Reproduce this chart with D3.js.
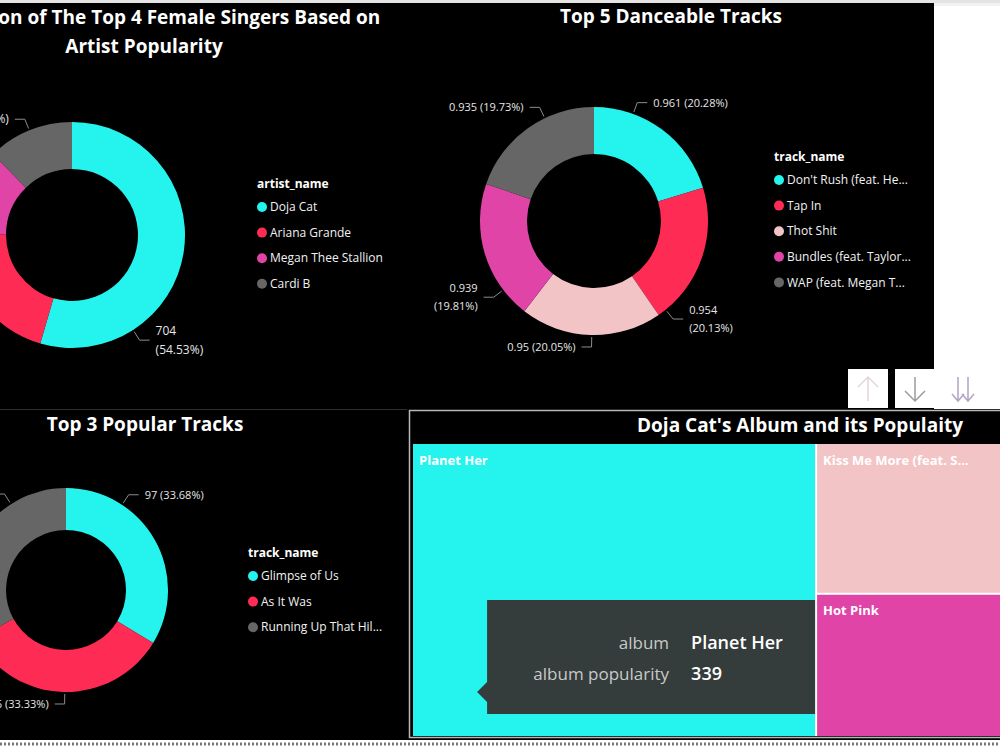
<!DOCTYPE html>
<html>
<head>
<meta charset="utf-8">
<script src="https://cdn.jsdelivr.net/npm/d3@7"></script>
<style>
    body { margin: 0; background: #fff; }
    svg { display: block; font-family: "Open Sans", "Noto Sans", sans-serif; }
</style>
</head>
<body>
<svg id="board" width="1000" height="750"></svg>
<script>
const artistNames = ["Doja Cat", "Ariana Grande", "Megan Thee Stallion", "Cardi B"];
const artistPopularity = [704, 266, 162, 159];

const danceTracks = ["Don't Rush (feat. He...", "Tap In", "Thot Shit", "Bundles (feat. Taylor...", "WAP (feat. Megan T..."];
const danceability = [0.961, 0.954, 0.95, 0.939, 0.935];

const popularTracks = ["Glimpse of Us", "As It Was", "Running Up That Hil..."];
const trackPopularity = [97, 96, 95];

const dojaAlbums = ["Planet Her", "Kiss Me More (feat. S...", "Hot Pink"];
const albumPopularity = [339, 160, 152];

const cyan = "#25F4EE", red = "#FE2C55", magenta = "#E044A7", grey = "#666666", blush = "#F2C4C6";

const svg = d3.select("#board");

// page background and panels
svg.append("rect").attr("width", 1000).attr("height", 750).attr("fill", "#fff");
svg.append("rect").attr("width", 1000).attr("height", 3).attr("fill", "#e4e4e4");
svg.append("rect").attr("x", 934).attr("y", 3).attr("width", 66).attr("height", 3).attr("fill", "#f1f1f1");
svg.append("rect").attr("x", 0).attr("y", 3).attr("width", 934).attr("height", 406).attr("fill", "#000");
svg.append("rect").attr("x", 0).attr("y", 409).attr("width", 1000).attr("height", 331).attr("fill", "#000");
svg.append("line").attr("x1", 0).attr("x2", 407).attr("y1", 409.5).attr("y2", 409.5).attr("stroke", "#2e2e2e");
svg.append("line").attr("x1", 0).attr("x2", 1000).attr("y1", 744).attr("y2", 744)
    .attr("stroke", "#777").attr("stroke-width", 3).attr("stroke-dasharray", "2,2");

function title(lines, x, y) {
    const t = svg.append("text").attr("x", x).attr("y", y).attr("text-anchor", "middle")
        .attr("fill", "#fff").attr("font-weight", 700).attr("font-size", 19);
    lines.forEach((l, i) => t.append("tspan").attr("x", x).attr("dy", i ? 29 : 0).text(l));
}

function legend(x, y, heading, names, color) {
    const g = svg.append("g").attr("transform", `translate(${x},${y})`);
    g.append("text").attr("x", 0).attr("y", 0).attr("dy", "0.35em").attr("fill", "#fff")
        .attr("font-weight", 700).attr("font-size", 12).text(heading);
    const items = g.selectAll(".item").data(names).join("g").attr("class", "item")
        .attr("transform", (d, i) => `translate(0,${23 + i * 25.6})`);
    items.append("circle").attr("cx", 5).attr("cy", 0).attr("r", 5).attr("fill", d => color(d));
    items.append("text").attr("x", 13).attr("dy", "0.35em").attr("fill", "#f2f2f2")
        .attr("font-size", 12).text(d => d);
}

function donut(o) {
    const total = d3.sum(o.values);
    const color = d3.scaleOrdinal(o.names, o.colors);
    const arcs = d3.pie().sort(null)(o.values);
    const arc = d3.arc().innerRadius(o.inner).outerRadius(o.outer);
    const g = svg.append("g").attr("transform", `translate(${o.cx},${o.cy})`);

    g.selectAll(".slice").data(arcs).join("path").attr("class", "slice")
        .attr("d", arc).attr("fill", (d, i) => color(o.names[i]));

    arcs.forEach(d => {
        let mid = (d.startAngle + d.endAngle) / 2;
        let side = Math.sin(mid) >= 0 ? 1 : -1;
        let pole = Math.cos(mid) >= 0 ? (mid > Math.PI ? 2 * Math.PI : 0) : Math.PI;
        // leader start is pulled towards top/bottom, like power bi does
        let a = pole + (mid - pole) * (side > 0 ? o.pull[0] : o.pull[1]);
        let p0 = [(o.outer + 2) * Math.sin(a), -(o.outer + 2) * Math.cos(a)];
        let p1 = [(o.outer + 12) * Math.sin(a), -(o.outer + 12) * Math.cos(a)];
        let p2 = [p1[0] + side * 10, p1[1]];
        g.append("polyline").attr("points", [p0, p1, p2].join(" "))
            .attr("fill", "none").attr("stroke", "#8c8c8c");

        let pct = `(${(d.value / total * 100).toFixed(2)}%)`;
        let lines = Math.abs(Math.sin(mid)) > 0.9 ? [String(d.value), pct] : [`${d.value} ${pct}`];
        let lh = o.labelSize * 1.6;
        let t = g.append("text").attr("text-anchor", side > 0 ? "start" : "end")
            .attr("fill", "#e6e6e6").attr("font-size", o.labelSize);
        lines.forEach((l, i) => t.append("tspan").attr("x", p2[0] + side * 6)
            .attr("y", p2[1] + (i - (lines.length - 1) / 2) * lh).attr("dy", "0.35em").text(l));
    });

    legend(o.legendX, o.legendY, o.heading, o.names, color);
}

// top left
title(["Distribution of The Top 4 Female Singers Based on", "Artist Popularity"], 144, 24);
donut({cx: 72, cy: 235, outer: 113, inner: 66, pull: [0.4, 1], labelSize: 12,
    names: artistNames, values: artistPopularity, colors: [cyan, red, magenta, grey],
    heading: "artist_name", legendX: 257, legendY: 184});

// top right
title(["Top 5 Danceable Tracks"], 671, 23);
donut({cx: 594, cy: 221, outer: 114, inner: 67, pull: [0.55, 0.72], labelSize: 11,
    names: danceTracks, values: danceability, colors: [cyan, red, blush, magenta, grey],
    heading: "track_name", legendX: 774, legendY: 157});

// bottom left
title(["Top 3 Popular Tracks"], 145, 431);
donut({cx: 66, cy: 590, outer: 102, inner: 60, pull: [0.55, 0.55], labelSize: 11,
    names: popularTracks, values: trackPopularity, colors: [cyan, red, grey],
    heading: "track_name", legendX: 248, legendY: 553});

// treemap panel
svg.append("rect").attr("x", 409.5).attr("y", 410.5).attr("width", 640).attr("height", 327)
    .attr("fill", "none").attr("stroke", "#b8b8b8").attr("stroke-width", 1.5);
title(["Doja Cat's Album and its Populaity"], 800, 432);

const albumColor = d3.scaleOrdinal(dojaAlbums, [cyan, blush, magenta]);
const albumTree = {name: "root", children: [
    {name: dojaAlbums[0], value: albumPopularity[0]},
    {name: "rest", children: dojaAlbums.slice(1).map((n, i) => ({name: n, value: albumPopularity[i + 1]}))}
]};
const root = d3.hierarchy(albumTree).sum(d => d.value || 0);
d3.treemap().tile(d3.treemapSliceDice).size([774, 292]).paddingInner(2)(root);

const tm = svg.append("g").attr("transform", "translate(413,444)");
const cells = tm.selectAll(".cell").data(root.leaves()).join("g").attr("class", "cell");
tm.insert("rect", ".cell").attr("width", 774).attr("height", 292).attr("fill", "#fff");
cells.append("rect").attr("x", d => d.x0).attr("y", d => d.y0)
    .attr("width", d => d.x1 - d.x0).attr("height", d => d.y1 - d.y0)
    .attr("fill", d => albumColor(d.data.name));
cells.append("text").attr("x", d => d.x0 + 6).attr("y", d => d.y0 + 16).attr("dy", "0.35em")
    .attr("fill", "#fff").attr("font-weight", 700).attr("font-size", 13).text(d => d.data.name);

// tooltip on Planet Her
const ph = root.leaves()[0];
const tip = tm.append("g").attr("transform", `translate(${ph.x1 - 328},${ph.y0 + 156})`);
tip.append("path").attr("d", "M0,0H328V114H0V102L-10,92L0,82Z").attr("fill", "#343c3c");
const tipRows = [["album", ph.data.name], ["album popularity", ph.value]];
tipRows.forEach((r, i) => {
    tip.append("text").attr("x", 182).attr("y", 43 + i * 31).attr("dy", "0.35em").attr("text-anchor", "end")
        .attr("fill", "#c9c9c9").attr("font-size", 17).text(r[0]);
    tip.append("text").attr("x", 204).attr("y", 43 + i * 31).attr("dy", "0.35em")
        .attr("fill", "#fff").attr("font-weight", 600).attr("font-size", 18).text(r[1]);
});

// sort buttons
svg.append("rect").attr("x", 848).attr("y", 369).attr("width", 40).attr("height", 39).attr("fill", "#fff");
svg.append("rect").attr("x", 895).attr("y", 369).attr("width", 40).attr("height", 39).attr("fill", "#fff");
svg.append("rect").attr("x", 935).attr("y", 369).attr("width", 65).attr("height", 40).attr("fill", "#fff");
svg.append("path").attr("d", "M868,401V377M858,387L868,377L878,387")
    .attr("fill", "none").attr("stroke", "#e3d6d6").attr("stroke-width", 1.5);
svg.append("path").attr("d", "M915,377V401M905,391L915,401L925,391")
    .attr("fill", "none").attr("stroke", "#9c9c9c").attr("stroke-width", 1.5);
svg.append("path").attr("d", "M958,377V401M968,377V401M952,394L958,401L964,394M962,394L968,401L974,394")
    .attr("fill", "none").attr("stroke", "#b3a3c4").attr("stroke-width", 1.5);
</script>
</body>
</html>
